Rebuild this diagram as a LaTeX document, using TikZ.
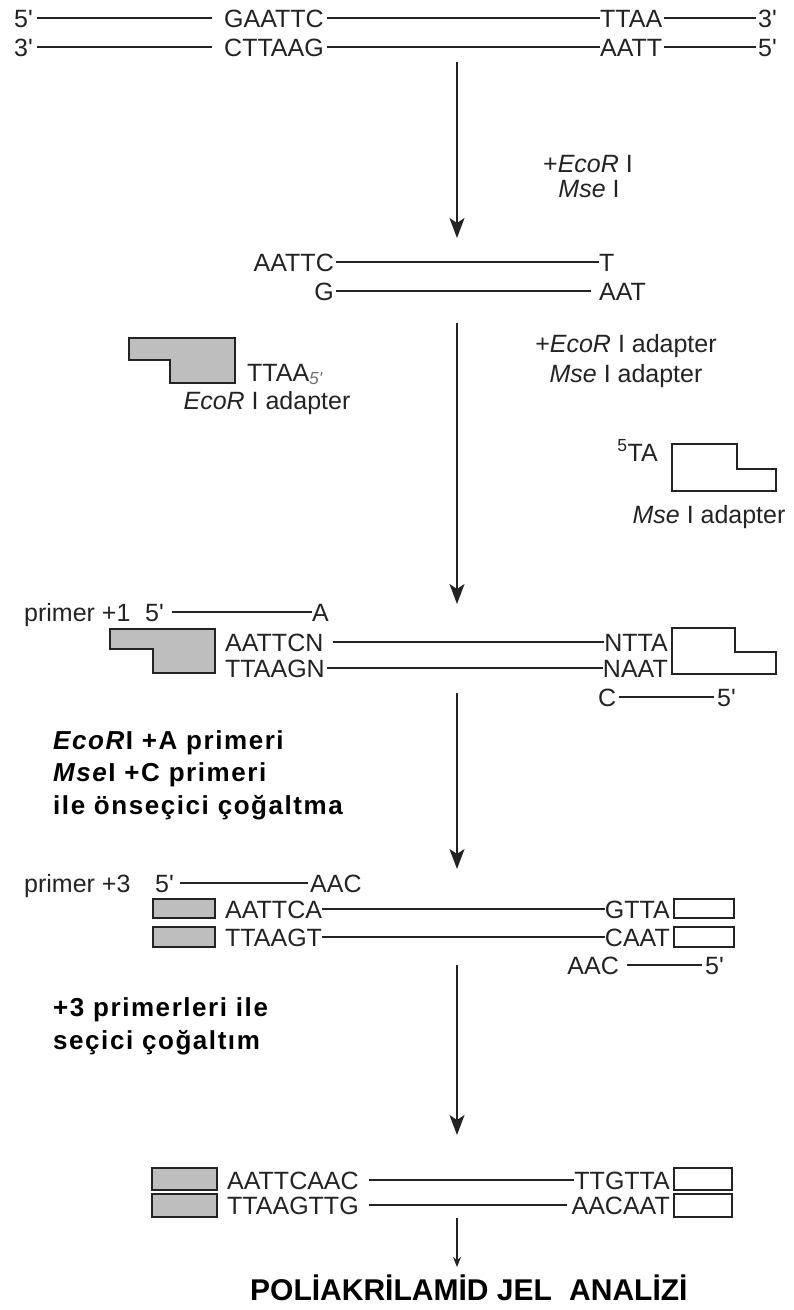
\documentclass[tikz,border=0pt]{standalone}
\usepackage{fontspec}
\setmainfont{Liberation Sans}
\newfontfamily\genisfont[LetterSpace=6]{Liberation Sans}
\usetikzlibrary{arrows.meta}

\definecolor{ipgri}{RGB}{35,35,35}
\definecolor{adaptorgri}{RGB}{190,190,190}
\newcommand{\us}{\textquotesingle}

\tikzset{
  dizi/.style={font=\fontsize{25}{25}\selectfont, text=ipgri, inner sep=0pt, text height=18pt, text depth=0pt},
  kalin/.style={font=\genisfont\bfseries\fontsize{26}{26}\selectfont, inner sep=0pt, text height=19pt, text depth=0pt, anchor=west},
  baslik/.style={font=\bfseries\fontsize{30}{30}\selectfont, inner sep=0pt, text height=21pt, text depth=0pt, anchor=west},
  iplik/.style={draw=ipgri, line width=1.9pt},
  adim/.style={draw=ipgri, line width=2pt, -{Stealth[length=20pt,width=15pt,inset=5pt]}},
  gridolgu/.style={draw=ipgri, line width=1.9pt, fill=adaptorgri},
  bosadaptor/.style={draw=ipgri, line width=1.9pt, fill=white},
}

\begin{document}
\begin{tikzpicture}[x=1pt,y=-1pt]
  \useasboundingbox (0,0) rectangle (794,1310);

  % Genomik DNA: EcoRI (GAATTC) ve MseI (TTAA) kesim yerleri
  \node[dizi, anchor=east] (g5a) at (33,18) {5\us};
  \node[dizi, anchor=west] (gEco) at (224,18) {GAATTC};
  \node[dizi, anchor=west] (gMse) at (600,18) {TTAA};
  \node[dizi, anchor=east] (g3a) at (777,18) {3\us};
  \node[dizi, anchor=east] (g3b) at (33,47) {3\us};
  \node[dizi, anchor=west] (gEcoAlt) at (224,47) {CTTAAG};
  \node[dizi, anchor=west] (gMseAlt) at (600,47) {AATT};
  \node[dizi, anchor=east] (g5b) at (777,47) {5\us};
  \draw[iplik, shorten <=4pt, shorten >=12pt] (g5a) -- (gEco);
  \draw[iplik, shorten <=3pt] (gEco) -- (gMse);
  \draw[iplik, shorten <=2pt, shorten >=2pt] (gMse) -- (g3a);
  \draw[iplik, shorten <=4pt, shorten >=12pt] (g3b) -- (gEcoAlt);
  \draw[iplik, shorten <=3pt] (gEcoAlt) -- (gMseAlt);
  \draw[iplik, shorten <=2pt, shorten >=2pt] (gMseAlt) -- (g5b);

  % 1. adim: iki enzimle kesim
  \coordinate (a1bas) at (457,62);
  \coordinate (a1uc) at (457,238);
  \draw[adim] (a1bas) -- (a1uc);
  \node[dizi] (enzim1) at (588,163) {+\textit{EcoR} I};
  \node[dizi] (enzim2) at (589,188) {\textit{Mse} I};

  % Kesilmis parca, yapiskan uclar
  \node[dizi, anchor=east] (kEco) at (334,262) {AATTC};
  \node[dizi, anchor=west] (kMse) at (599,262) {T};
  \node[dizi, anchor=east] (kEcoAlt) at (334,291) {G};
  \node[dizi, anchor=west] (kMseAlt) at (599,291) {AAT};
  \draw[iplik, shorten <=2pt] (kEco) -- (kMse);
  \draw[iplik, shorten <=2pt, shorten >=8pt] (kEcoAlt) -- (kMseAlt);

  % 2. adim: adaptorlerin baglanmasi
  \coordinate (a2bas) at (457,323);
  \coordinate (a2uc) at (457,604);
  \draw[adim] (a2bas) -- (a2uc);
  \node[dizi] (adaptor1) at (626,343) {+\textit{EcoR} I adapter};
  \node[dizi] (adaptor2) at (626,373) {\textit{Mse} I adapter};

  % EcoRI adaptoru (gri) ve MseI adaptoru (bos)
  \draw[gridolgu] (129,338) -- (235,338) -- (235,383) -- (170,383) -- (170,360) -- (129,360) -- cycle;
  \node[dizi, anchor=west] (ecoUc) at (247,372) {TTAA\textsubscript{\itshape\color{black!55}5\us}};
  \node[dizi] (ecoAd) at (267,400) {\textit{EcoR} I adapter};
  \node[dizi, anchor=east] (mseUc) at (658,452) {\textsuperscript{5}TA};
  \draw[bosadaptor] (672,444) -- (737,444) -- (737,469) -- (776,469) -- (776,491) -- (672,491) -- cycle;
  \node[dizi] (mseAd) at (709,514) {\textit{Mse} I adapter};

  % Adaptorlu parca ve +1 primerler
  \node[dizi, anchor=west] (p1ad) at (24,612) {primer +1};
  \node[dizi, anchor=west] (p1bes) at (145,612) {5\us};
  \node[dizi, anchor=west] (p1uc) at (312,612) {A};
  \draw[iplik, shorten <=8pt] (p1bes) -- (p1uc);
  \draw[gridolgu] (110,629) -- (215,629) -- (215,673) -- (153,673) -- (153,649) -- (110,649) -- cycle;
  \node[dizi, anchor=west] (b1ust) at (225,642) {AATTCN};
  \node[dizi, anchor=east] (b1ustS) at (668,642) {NTTA};
  \node[dizi, anchor=west] (b1alt) at (225,668) {TTAAGN};
  \node[dizi, anchor=east] (b1altS) at (668,668) {NAAT};
  \draw[iplik, shorten <=9pt] (b1ust) -- (b1ustS);
  \draw[iplik, shorten <=2pt] (b1alt) -- (b1altS);
  \draw[bosadaptor] (672,628) -- (735,628) -- (735,652) -- (776,652) -- (776,674) -- (672,674) -- cycle;
  \node[dizi, anchor=west] (p1C) at (598,697) {C};
  \node[dizi, anchor=west] (p1Cbes) at (717,697) {5\us};
  \draw[iplik, shorten <=3pt, shorten >=3pt] (p1C) -- (p1Cbes);

  % 3. adim: on secici cogaltma
  \coordinate (a3bas) at (457,693);
  \coordinate (a3uc) at (457,869);
  \draw[adim] (a3bas) -- (a3uc);
  \node[kalin] (onsec1) at (53,740) {\textit{EcoR}I +A primeri};
  \node[kalin] (onsec2) at (53,772) {\textit{Mse}I +C primeri};
  \node[kalin] (onsec3) at (53,805) {ile önseçici çoğaltma};

  % +3 primerli parca
  \node[dizi, anchor=west] (p3ad) at (24,883) {primer +3};
  \node[dizi, anchor=west] (p3bes) at (155,883) {5\us};
  \node[dizi, anchor=west] (p3uc) at (310,883) {AAC};
  \draw[iplik, shorten <=6pt, shorten >=2pt] (p3bes) -- (p3uc);
  \draw[gridolgu] (153,899) rectangle (215,918);
  \draw[gridolgu] (153,927) rectangle (215,947);
  \node[dizi, anchor=west] (b3ust) at (225,909) {AATTCA};
  \node[dizi, anchor=east] (b3ustS) at (670,909) {GTTA};
  \node[dizi, anchor=west] (b3alt) at (225,937) {TTAAGT};
  \node[dizi, anchor=east] (b3altS) at (670,937) {CAAT};
  \draw[iplik] (b3ust) -- (b3ustS);
  \draw[iplik] (b3alt) -- (b3altS);
  \draw[bosadaptor] (674,899) rectangle (734,918);
  \draw[bosadaptor] (674,927) rectangle (734,947);
  \node[dizi, anchor=east] (p3C) at (619,965) {AAC};
  \node[dizi, anchor=west] (p3Cbes) at (705,965) {5\us};
  \draw[iplik, shorten <=8pt, shorten >=3pt] (p3C) -- (p3Cbes);

  % 4. adim: secici cogaltma
  \coordinate (a4bas) at (457,965);
  \coordinate (a4uc) at (457,1135);
  \draw[adim] (a4bas) -- (a4uc);
  \node[kalin] (sec1) at (53,1007) {+3 primerleri ile};
  \node[kalin] (sec2) at (53,1040) {seçici çoğaltım};

  % Secici cogaltma urunu
  \draw[gridolgu] (152,1168) rectangle (217,1190);
  \draw[gridolgu] (152,1194) rectangle (217,1217);
  \node[dizi, anchor=west] (urUst) at (227,1180) {AATTCAAC};
  \node[dizi, anchor=east] (urUstS) at (670,1180) {TTGTTA};
  \node[dizi, anchor=west] (urAlt) at (227,1205) {TTAAGTTG};
  \node[dizi, anchor=east] (urAltS) at (670,1205) {AACAAT};
  \draw[iplik, shorten <=10pt] (urUst) -- (urUstS);
  \draw[iplik, shorten <=10pt, shorten >=4pt] (urAlt) -- (urAltS);
  \draw[bosadaptor] (674,1168) rectangle (732,1190);
  \draw[bosadaptor] (674,1194) rectangle (732,1217);

  % Jel analizi
  \coordinate (a5bas) at (457,1218);
  \coordinate (a5uc) at (457,1267);
  \draw[iplik, -{Stealth[length=10pt,width=8pt]}] (a5bas) -- (a5uc);
  \node[baslik] (jel) at (250,1290) {POLİAKRİLAMİD JEL\hspace{0.3em} ANALİZİ};
\end{tikzpicture}
\end{document}
